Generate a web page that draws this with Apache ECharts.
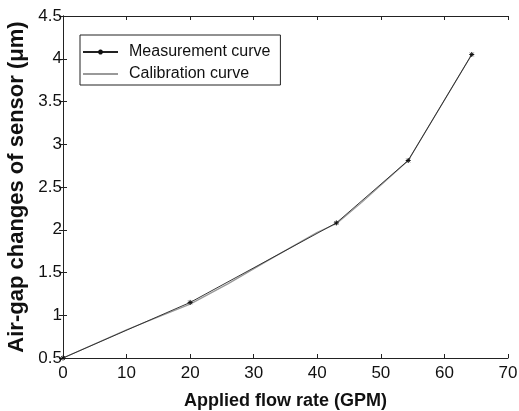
<!DOCTYPE html>
<html><head><meta charset="utf-8">
<script src="https://cdn.jsdelivr.net/npm/echarts@6/dist/echarts.min.js"></script>
<style>html,body{margin:0;padding:0;background:#fff}#c{width:519px;height:411px}</style>
</head><body><div id="c"></div>
<script>
const measX = [0, 20, 43, 54.3, 64.3];
const measY = [0.5, 1.15, 2.08, 2.81, 4.05];
const calX = [0, 10, 20, 26, 32, 40, 43, 47, 54.3, 64.3];
const calY = [0.5, 0.83, 1.13, 1.37, 1.63, 1.97, 2.07, 2.32, 2.81, 4.05];
const xTicks = [0, 70, 10];
const yTicks = [0.5, 4.5, 0.5];
const xName = 'Applied flow rate (GPM)';
const yName = 'Air-gap changes of sensor (\u03bcm)';
const names = ['Measurement curve', 'Calibration curve'];

const font = 'Liberation Sans, Arial, sans-serif';
const chart = echarts.init(document.getElementById('c'), null, {renderer: 'canvas'});
const axisCommon = {
  axisLine: {show: true, lineStyle: {color: '#222', width: 1}},
  axisTick: {show: true, inside: true, length: 4, lineStyle: {color: '#222'}},
  splitLine: {show: false}
};
chart.setOption({
  animation: false,
  backgroundColor: '#fff',
  grid: {left: 63, right: 11, top: 16, bottom: 53, containLabel: false, outerBoundsMode: 'none'},
  legend: {
    orient: 'vertical', left: 80, top: 35,
    data: [{name: names[0]}, {name: names[1], itemStyle: {opacity: 0}}],
    itemWidth: 35, itemHeight: 6, itemGap: 4,
    padding: [8, 10, 2, 2],
    borderColor: '#222', borderWidth: 1, backgroundColor: '#fff',
    textStyle: {fontFamily: font, fontSize: 16, color: '#111', padding: [0, 0, 0, 6], lineHeight: 18}
  },
  xAxis: [
    Object.assign({type: 'value', position: 'bottom', min: xTicks[0], max: xTicks[1], interval: xTicks[2],
      name: xName, nameLocation: 'middle', nameGap: 34,
      nameTextStyle: {fontFamily: font, fontSize: 18, fontWeight: 'bold', color: '#111'},
      axisLabel: {fontFamily: font, fontSize: 17, color: '#111', margin: 7}}, axisCommon),
    Object.assign({type: 'value', position: 'top', min: xTicks[0], max: xTicks[1], interval: xTicks[2],
      axisLabel: {show: false}}, axisCommon)
  ],
  yAxis: [
    Object.assign({type: 'value', position: 'left', min: yTicks[0], max: yTicks[1], interval: yTicks[2],
      name: yName, nameLocation: 'middle', nameGap: 31,
      nameTextStyle: {fontFamily: font, fontSize: 22, fontWeight: 'bold', color: '#111'},
      axisLabel: {fontFamily: font, fontSize: 17, color: '#111', margin: 1}}, axisCommon),
    Object.assign({type: 'value', position: 'right', min: yTicks[0], max: yTicks[1], interval: yTicks[2],
      axisLabel: {show: false}}, axisCommon)
  ],
  series: [
    {name: names[1], type: 'line', data: calX.map((x, i) => [x, calY[i]]),
      showSymbol: false, symbol: 'none', lineStyle: {color: '#999', width: 1.2}, itemStyle: {color: '#999'}, z: 2},
    {name: names[0], type: 'line', data: measX.map((x, i) => [x, measY[i]]),
      symbol: 'path://M0,-5L0,5M-5,0L5,0M-3.5,-3.5L3.5,3.5M-3.5,3.5L3.5,-3.5', symbolSize: 5,
      itemStyle: {color: '#111', borderColor: '#111', borderWidth: 1},
      lineStyle: {color: '#222', width: 0.9}, z: 3}
  ]
});
</script></body></html>
